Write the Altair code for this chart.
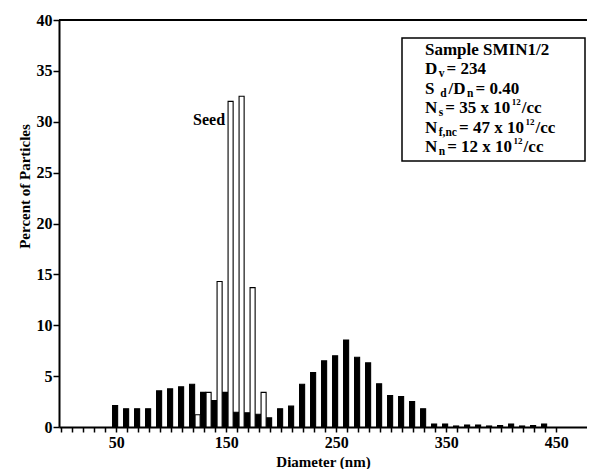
import altair as alt
import pandas as pd

# ---- data ----
sample_diam = [50, 60, 70, 80, 90, 100, 110, 120, 130, 140,
               150, 160, 170, 180, 190, 200, 210, 220, 230, 240,
               250, 260, 270, 280, 290, 300, 310, 320, 330, 340,
               350, 360, 370, 380, 390, 400, 410, 420, 430, 440]
sample_pct = [2.1, 1.8, 1.8, 1.8, 3.55, 3.75, 3.95, 4.2, 3.4, 2.6,
              3.4, 1.45, 1.4, 1.25, 0.9, 1.8, 2.05, 4.2, 5.35, 6.5,
              7.0, 8.55, 6.85, 6.3, 4.25, 3.1, 3.0, 2.5, 1.8, 0.3,
              0.3, 0.1, 0.2, 0.2, 0.1, 0.15, 0.3, 0.1, 0.15, 0.3]
seed_diam = [125, 135, 145, 155, 165, 175, 185]
seed_pct = [1.2, 3.4, 14.3, 32.0, 32.5, 13.7, 3.4]

x_ticks = list(range(0, 460, 10))
y_ticks = [0, 5, 10, 15, 20, 25, 30, 35, 40]

info_lines = [
    [("Sample SMIN1/2", "n")],
    [("D", "n"), ("v", "b"), ("= 234", "n")],
    [("S ", "n"), ("d", "b"), ("/D", "n"), ("n", "b"), ("= 0.40", "n")],
    [("N", "n"), ("s", "b"), ("= 35 x 10", "n"), ("12", "p"), ("/cc", "n")],
    [("N", "n"), ("f,nc", "b"), ("= 47 x 10", "n"), ("12", "p"), ("/cc", "n")],
    [("N", "n"), ("n", "b"), ("= 12 x 10", "n"), ("12", "p"), ("/cc", "n")],
]

FONT = "Liberation Serif"
W, H = 528, 407

bars = pd.DataFrame({
    "diam": sample_diam + seed_diam,
    "pct": sample_pct + seed_pct,
    "kind": ["sample"] * len(sample_diam) + ["seed"] * len(seed_diam),
})

# ---- legend text layout (Times-Bold advance widths, 1/1000 em) ----
adv = {" ": 250, "=": 570, "/": 278, ",": 250, ".": 250, "x": 500,
       "D": 722, "S": 556, "N": 722, "M": 944, "I": 389, "a": 500,
       "c": 444, "d": 556, "e": 444, "f": 333, "l": 278, "m": 833,
       "n": 556, "p": 556, "s": 389, "v": 500}
sizes = {"n": 17, "b": 11.5, "p": 9}
shift = {"n": 0, "b": 3, "p": -8}
gap = {"n": 1.5, "b": 2, "p": 1}
rows = []
x_left, base0, step = 366, 34.5, 19.5
for i, line in enumerate(info_lines):
    cx = x_left
    for txt, kind in line:
        s = sizes[kind]
        rows.append({"px": cx, "py": base0 + i * step + shift[kind],
                     "t": txt, "fs": s})
        cx += sum(adv.get(ch, 500) for ch in txt) / 1000 * s + gap[kind]
info = pd.DataFrame(rows)

x_scale = alt.Scale(domain=[-2, 478], nice=False, zero=False)
y_scale = alt.Scale(domain=[0, 40], nice=False)
x_axis = alt.Axis(values=x_ticks, tickSize=5,
                  labelExpr="datum.value % 100 == 50 ? datum.label : ''",
                  labelOverlap=False, labelPadding=2)
y_axis = alt.Axis(values=y_ticks, tickSize=6, labelPadding=1, titleY=166)

bar_layer = alt.Chart(bars).transform_calculate(
    x0="datum.diam - 3.3", x1="datum.diam + 1.3"
).mark_bar(stroke="black", strokeWidth=1.1).encode(
    x=alt.X("x0:Q", scale=x_scale, title="Diameter (nm)", axis=x_axis),
    x2="x1:Q",
    y=alt.Y("pct:Q", scale=y_scale, title="Percent of Particles", axis=y_axis),
    y2=alt.datum(0),
    fill=alt.Fill("kind:N", scale=alt.Scale(domain=["sample", "seed"],
                                            range=["black", "white"]),
                  legend=None),
)

top_line = alt.Chart(pd.DataFrame({"a": [0]})).mark_rule(
    color="black", strokeWidth=2
).encode(x=alt.value(0), x2=alt.value(W), y=alt.value(0))

seed_label = alt.Chart(pd.DataFrame({"a": [0]})).mark_text(
    text="Seed", font=FONT, fontWeight="bold", fontSize=16,
    align="right", baseline="alphabetic"
).encode(
    x=alt.X(datum=149, scale=x_scale, axis=x_axis, title="Diameter (nm)"),
    y=alt.Y(datum=29.7, scale=y_scale, axis=y_axis, title="Percent of Particles"),
)

box = alt.Chart(pd.DataFrame({"a": [0]})).mark_rect(
    fill="white", stroke="black", strokeWidth=1.5
).encode(x=alt.value(343), x2=alt.value(526), y=alt.value(18), y2=alt.value(141))

info_text = alt.Chart(info).mark_text(
    font=FONT, fontWeight="bold", align="left", baseline="alphabetic",
    color="black"
).encode(
    x=alt.X("px:Q", scale=None),
    y=alt.Y("py:Q", scale=None),
    text="t:N",
    size=alt.Size("fs:Q", scale=None, legend=None),
)

chart = alt.layer(bar_layer, top_line, seed_label, box, info_text).properties(
    width=W, height=H,
    autosize=alt.AutoSizeParams(type="none"),
    padding={"left": 51, "top": 12, "right": 0, "bottom": 42},
).configure_view(stroke=None).configure_axis(
    grid=False, domainColor="black", domainWidth=2, tickColor="black",
    tickWidth=1.5, labelFont=FONT, labelFontWeight="bold", labelFontSize=16,
    labelColor="black", titleFont=FONT, titleFontWeight="bold",
    titleFontSize=15, titleColor="black"
)

chart.save("out.html", embed_options={"renderer": "svg", "actions": False})
